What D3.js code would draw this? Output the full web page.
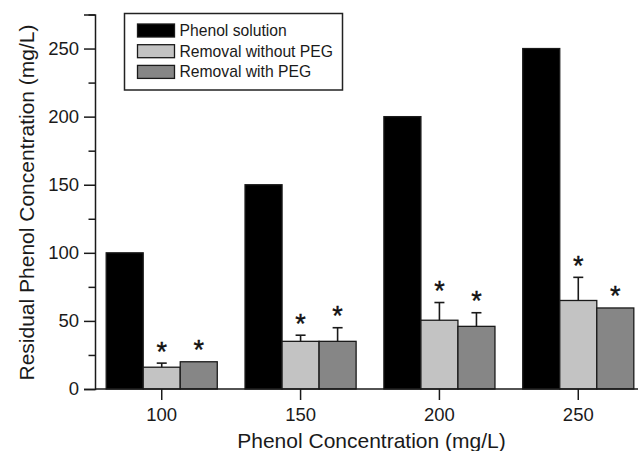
<!DOCTYPE html>
<html>
<head>
<meta charset="utf-8">
<script src="https://cdn.jsdelivr.net/npm/d3@7"></script>
<style>
  body { margin: 0; background: #fff; }
  svg { display: block; font-family: "Liberation Sans", Arial, sans-serif; }
</style>
</head>
<body>
<svg id="chart" width="640" height="451"></svg>
<script>
// Chart data
const concentrations = ['100', '150', '200', '250'];
const seriesNames = ['Phenol solution', 'Removal without PEG', 'Removal with PEG'];
const phenolSolution = [100, 150, 200, 250];
const withoutPEG = [16, 35, 50.5, 65];
const withoutPEGErr = [3, 4.5, 13, 17];
const withPEG = [20, 35, 46, 59.5];
const withPEGErr = [0, 10, 10, 0];
const yTicks = [0, 50, 100, 150, 200, 250];
const yMinorTicks = [25, 75, 125, 175, 225, 275];

const colors = ['#000000', '#c3c3c3', '#868686'];

const svg = d3.select('#chart');

// Scales
const x = d3.scaleBand()
    .domain(concentrations)
    .range([92.3, 647.7])
    .paddingInner(0.2)
    .paddingOuter(0.1);

const xSub = d3.scaleBand()
    .domain(seriesNames)
    .range([0, x.bandwidth()]);

const y = d3.scaleLinear()
    .domain([0, 275])
    .range([389, 14.5]);

const axisX = 95;
const baseY = y(0);

// Build rows for the bars
const values = [phenolSolution, withoutPEG, withPEG];
const errors = [null, withoutPEGErr, withPEGErr];
const bars = [];
concentrations.forEach((c, i) => {
    seriesNames.forEach((s, j) => {
        bars.push({
            cat: c,
            series: s,
            idx: j,
            value: values[j][i],
            err: errors[j] ? errors[j][i] : null
        });
    });
});

// Bars
svg.append('g')
    .selectAll('rect')
    .data(bars)
    .enter()
    .append('rect')
    .attr('x', d => x(d.cat) + xSub(d.series))
    .attr('y', d => y(d.value))
    .attr('width', xSub.bandwidth())
    .attr('height', d => baseY - y(d.value))
    .attr('fill', d => colors[d.idx])
    .attr('stroke', '#1a1a1a')
    .attr('stroke-width', 1.3);

// Error bars (only upper half, as in the figure)
const errBars = bars.filter(d => d.err);
const errG = svg.append('g')
    .attr('stroke', '#1a1a1a')
    .attr('stroke-width', 1.6);

errG.selectAll('.err-line')
    .data(errBars)
    .enter()
    .append('line')
    .attr('x1', d => x(d.cat) + xSub(d.series) + xSub.bandwidth() / 2)
    .attr('x2', d => x(d.cat) + xSub(d.series) + xSub.bandwidth() / 2)
    .attr('y1', d => y(d.value))
    .attr('y2', d => y(d.value + d.err));

errG.selectAll('.err-cap')
    .data(errBars)
    .enter()
    .append('line')
    .attr('x1', d => x(d.cat) + xSub(d.series) + xSub.bandwidth() / 2 - 5)
    .attr('x2', d => x(d.cat) + xSub(d.series) + xSub.bandwidth() / 2 + 5)
    .attr('y1', d => y(d.value + d.err))
    .attr('y2', d => y(d.value + d.err));

// Significance stars above the removal bars
svg.append('g')
    .selectAll('text')
    .data(bars.filter(d => d.idx > 0))
    .enter()
    .append('text')
    .attr('x', d => x(d.cat) + xSub(d.series) + xSub.bandwidth() / 2)
    .attr('y', d => y(d.value + (d.err || 0)) - 2.5)
    .attr('text-anchor', 'middle')
    .style('font-size', '27px')
    .attr('fill', '#111')
    .attr('stroke', '#111')
    .attr('stroke-width', 0.4)
    .text('*');

// Y axis
const yAxis = svg.append('g')
    .attr('transform', `translate(${axisX},0)`)
    .call(d3.axisLeft(y).tickValues(yTicks).tickSize(11).tickPadding(5));

const yMinor = svg.append('g')
    .attr('transform', `translate(${axisX},0)`)
    .call(d3.axisLeft(y).tickValues(yMinorTicks).tickSize(6.5).tickFormat(''));
yMinor.select('.domain').remove();

// X axis
const xAxis = svg.append('g')
    .attr('transform', `translate(0,${baseY})`)
    .call(d3.axisBottom(x).tickSize(11).tickPadding(8));
xAxis.select('.domain')
    .attr('d', `M${axisX},0H638`);

// Axis styling
svg.selectAll('.domain, .tick line')
    .attr('stroke', '#1a1a1a')
    .attr('stroke-width', 1.5);
svg.selectAll('.tick text')
    .attr('fill', '#1a1a1a')
    .style('font-size', '18.5px')
    .style('font-family', '"Liberation Sans", Arial, sans-serif');

// Axis titles
svg.append('text')
    .attr('transform', 'translate(33.5,202.5) rotate(-90)')
    .attr('text-anchor', 'middle')
    .attr('fill', '#1a1a1a')
    .style('font-size', '21px')
    .text('Residual Phenol Concentration (mg/L)');

svg.append('text')
    .attr('x', 371.5)
    .attr('y', 448)
    .attr('text-anchor', 'middle')
    .attr('fill', '#1a1a1a')
    .style('font-size', '21px')
    .text('Phenol Concentration (mg/L)');

// Legend
const legend = svg.append('g');
legend.append('rect')
    .attr('x', 124.5)
    .attr('y', 13.5)
    .attr('width', 218)
    .attr('height', 76.5)
    .attr('fill', '#fff')
    .attr('stroke', '#222')
    .attr('stroke-width', 1.5);

const legendRow = legend.selectAll('.row')
    .data(seriesNames)
    .enter()
    .append('g')
    .attr('transform', (d, i) => `translate(137.5,${30.5 + i * 20.7})`);

legendRow.append('rect')
    .attr('x', 0)
    .attr('y', -6.5)
    .attr('width', 37)
    .attr('height', 13)
    .attr('fill', (d, i) => colors[i])
    .attr('stroke', '#1a1a1a')
    .attr('stroke-width', 1.3);

legendRow.append('text')
    .attr('x', 42)
    .attr('y', 5.5)
    .attr('fill', '#1a1a1a')
    .style('font-size', '15.7px')
    .text(d => d);
</script>
</body>
</html>
